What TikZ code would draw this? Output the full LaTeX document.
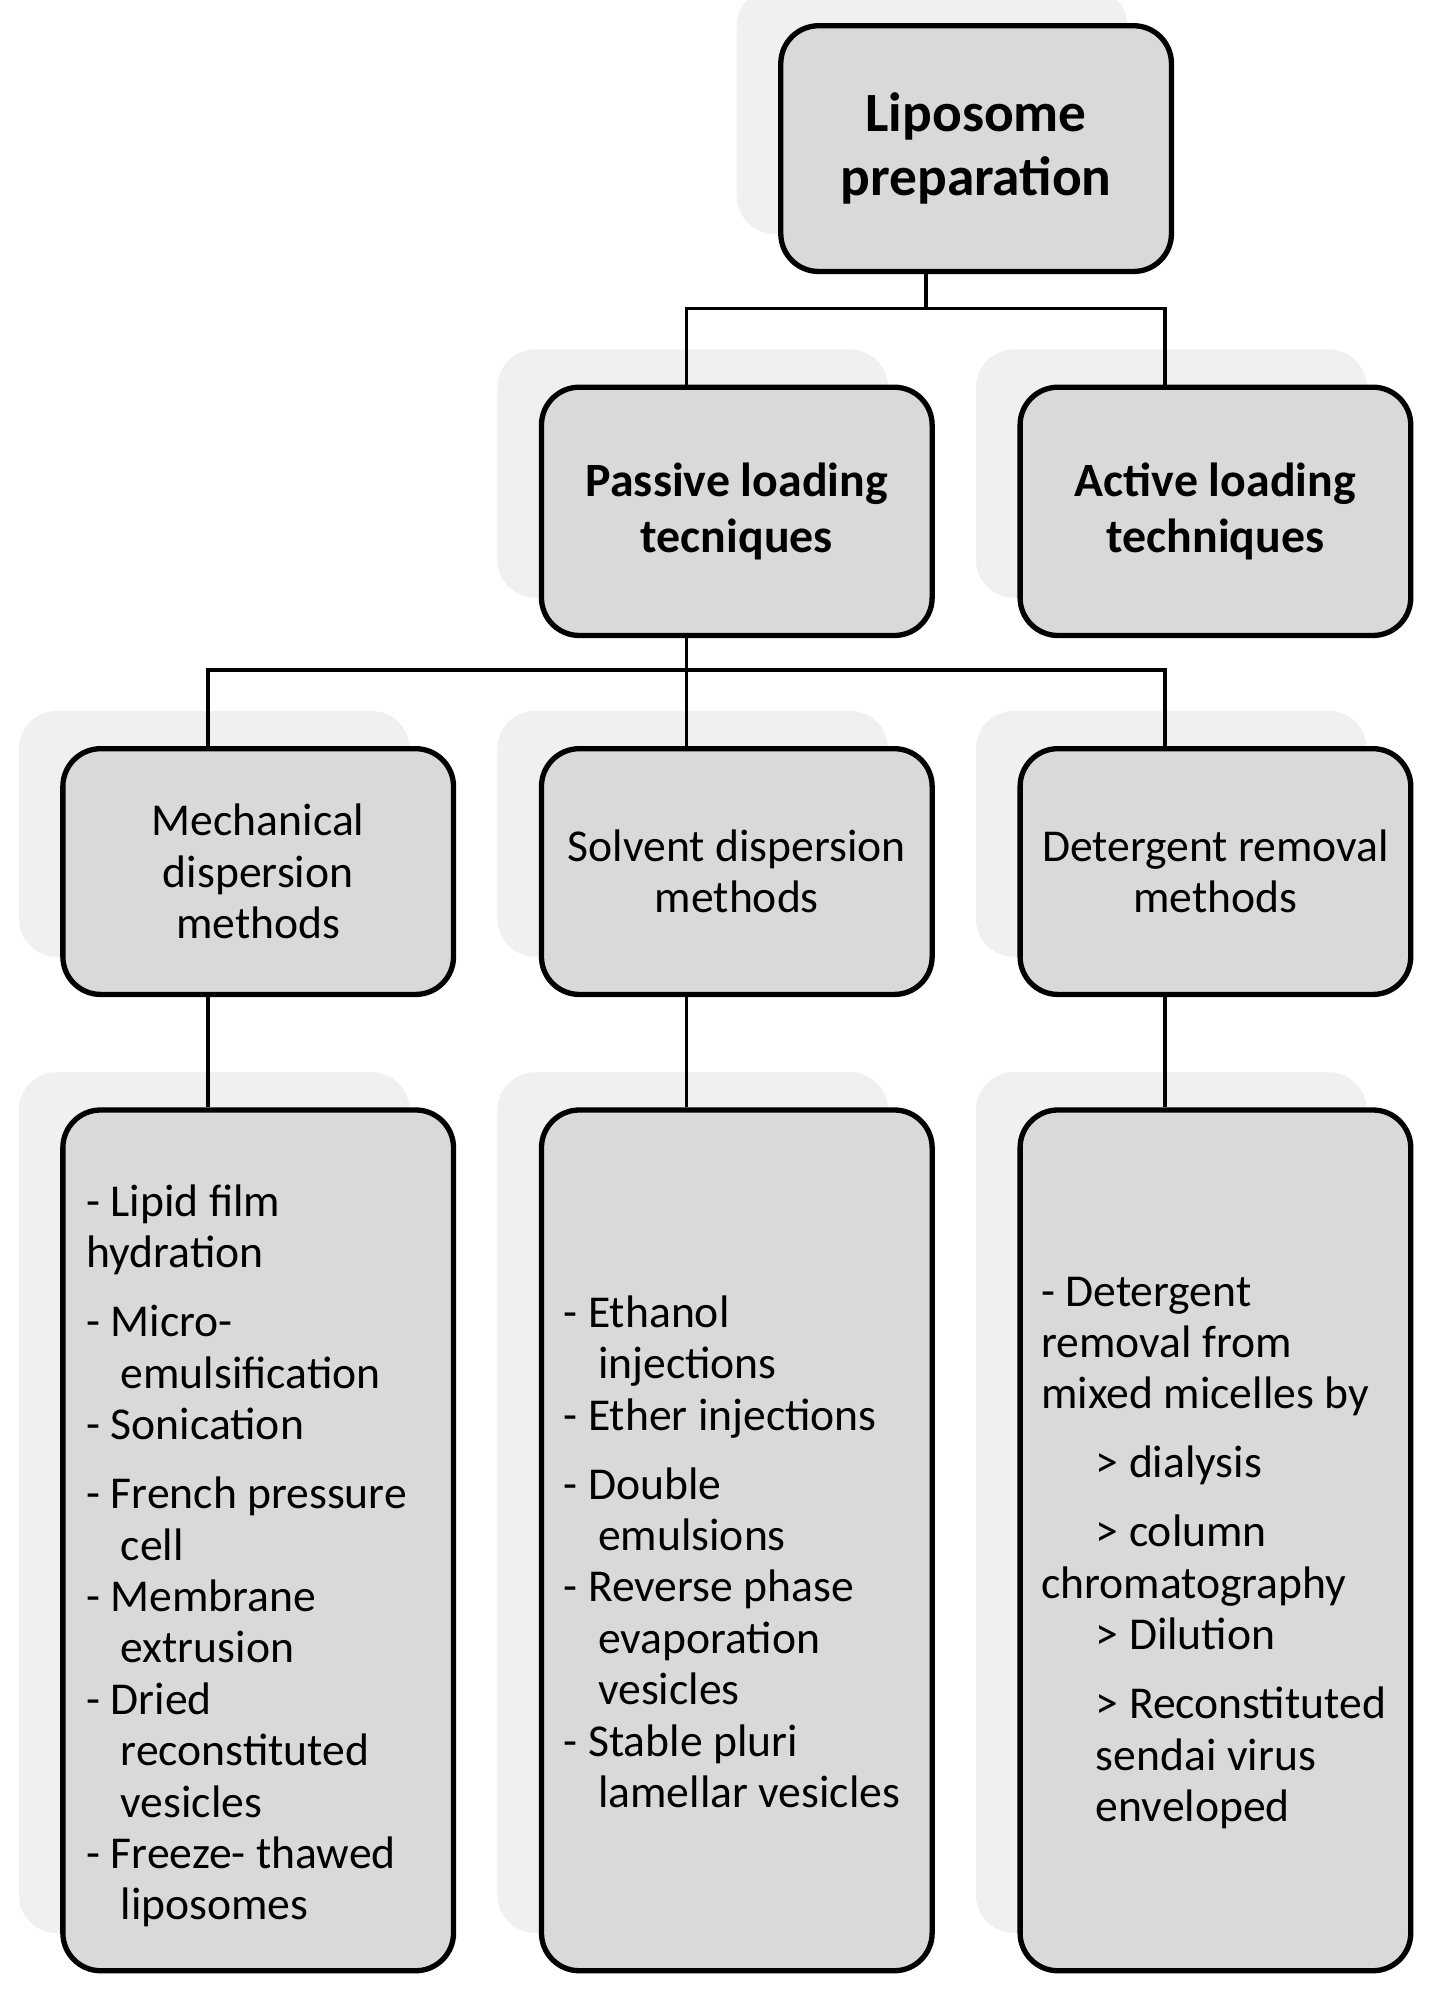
\documentclass[tikz,border=0pt]{standalone}
\usepackage{fontspec}
\setmainfont{Carlito}
\tikzset{box/.style={draw=black, very thick, fill=gray!30, rounded corners=3mm, minimum width=3.1cm, minimum height=1.95cm, align=center, font=\fontsize{10.3}{11.6}\selectfont},
 shade/.style={fill=gray!12, rounded corners=3mm, minimum width=3.1cm, minimum height=1.95cm},
 lst/.style={anchor=north west, align=left, inner sep=0pt, font=\fontsize{10.3}{11.6}\selectfont},
 link/.style={draw=black, thick}}
\begin{document}
\begin{tikzpicture}[x=0.01cm, y=-0.01cm]
\useasboundingbox (0,0) rectangle (1140,1580);
% shadows
\foreach \cx/\cy/\h in {775/118/1.95, 585/406/1.97, 965/406/1.97, 205/692/1.95, 585/692/1.95, 965/692/1.95}
  \node[shade, minimum height=\h cm] at (\cx-35,\cy-30) {};
\foreach \cx in {205,585,965}
  \node[shade, minimum height=6.83cm] at (\cx-35,1223-30) {};
% boxes
\node[box, font=\bfseries\fontsize{12.5}{14.5}\selectfont] (root) at (775,118) {Liposome\\preparation};
\node[box, minimum height=1.97cm, font=\bfseries\fontsize{10.8}{12.5}\selectfont] (passive) at (585,406) {Passive loading\\tecniques};
\node[box, minimum height=1.97cm, font=\bfseries\fontsize{10.8}{12.5}\selectfont] (active) at (965,406) {Active loading\\techniques};
\node[box] (mech) at (205,692) {Mechanical\\dispersion\\methods};
\node[box] (solv) at (585,692) {Solvent dispersion\\methods};
\node[box] (deter) at (965,692) {Detergent removal\\methods};
\node[box, minimum height=6.83cm] (mlist) at (205,1223) {};
\node[box, minimum height=6.83cm] (slist) at (585,1223) {};
\node[box, minimum height=6.83cm] (dlist) at (965,1223) {};
% lists
\node[lst] (mtext) at (68,940) {- Lipid film\\hydration\\[4pt]
- Micro-\\\hspace*{0.75em}emulsification\\- Sonication\\[4pt]
- French pressure\\\hspace*{0.75em}cell\\- Membrane\\\hspace*{0.75em}extrusion\\- Dried\\\hspace*{0.75em}reconstituted\\\hspace*{0.75em}vesicles\\
- Freeze- thawed\\\hspace*{0.75em}liposomes};
\node[lst] (stext) at (447,1028) {- Ethanol\\\hspace*{0.75em}injections\\- Ether injections\\[4pt]
- Double\\\hspace*{0.75em}emulsions\\- Reverse phase\\\hspace*{0.75em}evaporation\\\hspace*{0.75em}vesicles\\
- Stable pluri\\\hspace*{0.75em}lamellar vesicles};
\node[lst] (dtext) at (826,1013) {- Detergent\\removal from\\mixed micelles by\\[4pt]
\hspace*{1.2em}> dialysis\\[4pt]\hspace*{1.2em}> column\\chromatography\\\hspace*{1.2em}> Dilution\\[4pt]
\hspace*{1.2em}> Reconstituted\\\hspace*{1.2em}sendai virus\\\hspace*{1.2em}enveloped};
% connectors
\coordinate (r1) at (735,245);
\coordinate (p1) at (545,532);
\draw[link] (root.south -| r1) -- (r1) -| (passive.north -| 545,0);
\draw[link] (r1) -| (active.north -| 925,0);
\draw[link] (passive.south -| p1) -- (p1) -| (mech.north -| 165,0);
\draw[link] (p1) -- (solv.north -| p1);
\draw[link] (p1) -| (deter.north -| 925,0);
\draw[link] (mech.south -| 165,0) -- (mlist.north -| 165,0);
\draw[link] (solv.south -| 545,0) -- (slist.north -| 545,0);
\draw[link] (deter.south -| 925,0) -- (dlist.north -| 925,0);
\end{tikzpicture}
\end{document}
